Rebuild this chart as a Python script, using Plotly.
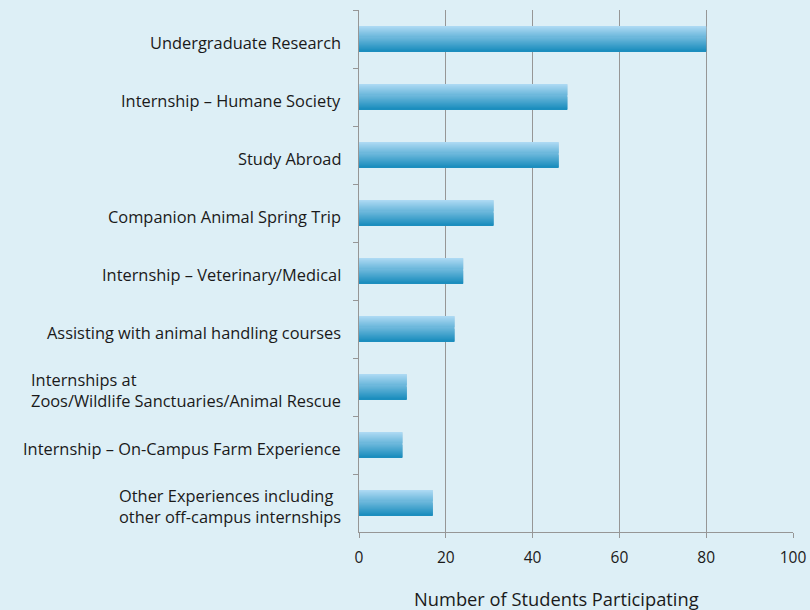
import plotly.graph_objects as go

categories = [
    "Undergraduate Research",
    "Internship – Humane Society",
    "Study Abroad",
    "Companion Animal Spring Trip",
    "Internship – Veterinary/Medical",
    "Assisting with animal handling courses",
    "Internships at<br>Zoos/Wildlife Sanctuaries/Animal Rescue",
    "Internship – On-Campus Farm Experience",
    "Other Experiences including<br>other off-campus internships",
]
values = [80, 48, 46, 31, 24, 22, 11, 10, 17]
x_ticks = [0, 20, 40, 60, 80, 100]
x_title = "Number of Students Participating"

FONT = "Open Sans"
BG = "#ddeff6"
top_rgb = (172, 217, 243)
bot_rgb = (28, 142, 190)
N = 24
bar_w = 0.415

fig = go.Figure()
fig.add_trace(go.Bar(
    x=values, y=categories, orientation="h", width=bar_w + 0.03, offset=-(bar_w + 0.03) / 2,
    marker=dict(color="rgba(150,170,180,0.35)", line=dict(width=0)),
    hoverinfo="skip", showlegend=False,
))
for i in range(N):
    t = i / (N - 1)
    c = tuple(round(top_rgb[k] + (bot_rgb[k] - top_rgb[k]) * t) for k in range(3))
    fig.add_trace(go.Bar(
        x=values, y=categories, orientation="h",
        width=bar_w / N * 1.05, offset=-bar_w / 2 + i * bar_w / N,
        marker=dict(color="rgb(%d,%d,%d)" % c, line=dict(width=0)),
        hoverinfo="skip", showlegend=False,
    ))

annotations = []
for cat in categories:
    annotations.append(dict(
        x=0, xref="paper", y=cat, yref="y", text=cat, showarrow=False,
        xanchor="right", align="left", xshift=-16, yshift=-3,
        font=dict(family=FONT, size=16.4, color="#1a1a1a"),
    ))
annotations.append(dict(
    x=0.455, xref="paper", y=0, yref="paper", yanchor="middle", yshift=-66,
    text=x_title, showarrow=False,
    font=dict(family=FONT, size=18.3, color="#1a1a1a"),
))

fig.update_layout(
    width=810, height=610,
    margin=dict(l=359, r=17, t=10, b=78, autoexpand=False),
    paper_bgcolor=BG, plot_bgcolor=BG,
    barmode="overlay",
    annotations=annotations,
    xaxis=dict(
        range=[0, 100], tickvals=x_ticks, ticktext=[str(v) for v in x_ticks],
        showgrid=True, gridcolor="#969696", gridwidth=1,
        showline=True, linecolor="#969696", linewidth=1,
        ticks="outside", ticklen=5, tickcolor="#969696",
        ticklabelstandoff=6,
        tickfont=dict(family=FONT, size=15.5, color="#1a1a1a"),
        zeroline=False, fixedrange=True, automargin=False,
    ),
    yaxis=dict(
        categoryorder="array", categoryarray=categories, autorange="reversed",
        showticklabels=False, showgrid=False,
        showline=True, linecolor="#969696", linewidth=1,
        ticks="outside", ticklen=5, tickcolor="#969696", tickson="boundaries",
        zeroline=False, fixedrange=True, automargin=False,
    ),
)

fig.write_html("out.html")
